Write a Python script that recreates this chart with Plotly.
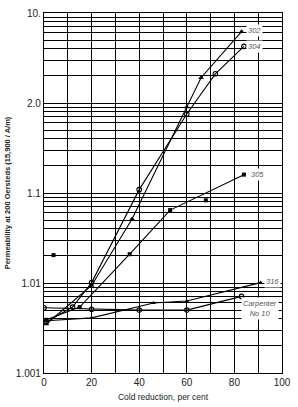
import math
import plotly.graph_objects as go

# ---- data (cold reduction %, permeability at 200 Oe) ----
red_302 = [1, 20, 37, 60, 66, 83]
perm_302 = [1.0035, 1.0094, 1.0515, 1.90, 2.91, 7.2]

red_304 = [1, 12, 20, 40, 60, 72, 84]
perm_304 = [1.0037, 1.0054, 1.0101, 1.109, 1.755, 3.11, 5.26]

red_305 = [1, 15, 36, 53, 84]
perm_305 = [1.0039, 1.0054, 1.0209, 1.0646, 1.160]
red_305_pts = [4, 68]
perm_305_pts = [1.0204, 1.083]

red_316 = [1, 20, 46, 60, 91]
perm_316 = [1.0038, 1.0041, 1.0060, 1.0063, 1.0101]

red_c10 = [0, 20, 40, 60, 83]
perm_c10 = [1.0053, 1.0051, 1.0050, 1.0050, 1.0071]

y_tick_values = [0.001, 0.01, 0.1, 1, 10]
y_tick_labels = ["1.001", "1.01", "1.1", "2.0", "10."]
x_tick_values = [0, 20, 40, 60, 80, 100]
x_tick_labels = ["0", "20", "40", "60", "80", "100"]


def excess(vals):
    return [round(v - 1, 6) for v in vals]


fig = go.Figure()
line = dict(color="black", width=1.1)

fig.add_trace(go.Scatter(x=red_302, y=excess(perm_302), mode="lines+markers", line=line,
                         marker=dict(symbol="triangle-up", size=5, color="black")))
fig.add_trace(go.Scatter(x=red_304, y=excess(perm_304), mode="lines+markers", line=line,
                         marker=dict(symbol="circle-open", size=4.5, color="black", line=dict(width=1.1))))
fig.add_trace(go.Scatter(x=red_305, y=excess(perm_305), mode="lines+markers", line=line,
                         marker=dict(symbol="square", size=4, color="black")))
fig.add_trace(go.Scatter(x=red_305_pts, y=excess(perm_305_pts), mode="markers",
                         marker=dict(symbol="square", size=4, color="black")))
fig.add_trace(go.Scatter(x=red_316, y=excess(perm_316), mode="lines+markers", line=line,
                         marker=dict(symbol="triangle-up", size=4, color="black")))
fig.add_trace(go.Scatter(x=red_c10, y=excess(perm_c10), mode="lines+markers", line=line,
                         marker=dict(symbol="circle-open", size=4.5, color="black", line=dict(width=1.1))))

# full log grid: 1..9 in each decade, labels only on decades
grid_vals, grid_text = [], []
for d in range(-3, 1):
    for k in range(1, 10):
        v = k * 10 ** d
        grid_vals.append(v)
        grid_text.append(y_tick_labels[y_tick_values.index(10 ** d)] if k == 1 else "")
grid_vals.append(10)
grid_text.append(y_tick_labels[-1])

labels = [
    ("302", 88.3, 6.37),
    ("304", 88.5, 4.26),
    ("305", 89.5, 0.160),
    ("316", 96.0, 0.01035),
    ("Carpenter<br>No 10", 90.7, 0.00526),
]
for txt, lx, ly in labels:
    fig.add_annotation(x=lx, y=math.log10(ly), xref="x", yref="y", text="<i>%s</i>" % txt,
                       showarrow=False, bgcolor="white", borderpad=1,
                       font=dict(family="Liberation Sans", size=7.5, color="#555"))

fig.update_layout(
    width=298, height=407,
    margin=dict(l=44, r=7, t=7, b=33),
    plot_bgcolor="white", paper_bgcolor="white",
    showlegend=False,
    font=dict(family="Liberation Sans", color="#222"),
)
fig.update_xaxes(
    range=[0, 100], tickvals=x_tick_values, ticktext=x_tick_labels,
    showgrid=True, gridcolor="black", gridwidth=1,
    minor=dict(dtick=10, showgrid=True, gridcolor="black", gridwidth=1),
    showline=True, linecolor="black", linewidth=1.2, mirror=True,
    ticks="", zeroline=False, tickfont=dict(size=10), ticklabeloverflow="allow",
    title=dict(text="Cold reduction, per cent", font=dict(size=8.5), standoff=6),
)
fig.update_yaxes(
    type="log", range=[-3, 1], tickvals=grid_vals, ticktext=grid_text,
    showgrid=True, gridcolor="black", gridwidth=1,
    showline=True, linecolor="black", linewidth=1.2, mirror=True,
    ticks="", zeroline=False, tickfont=dict(size=10),
    title=dict(text="<b>Permeability at 200 Oersteds (15,900 / A/m)</b>", font=dict(size=7.5), standoff=4),
)

fig.write_html("out.html")
